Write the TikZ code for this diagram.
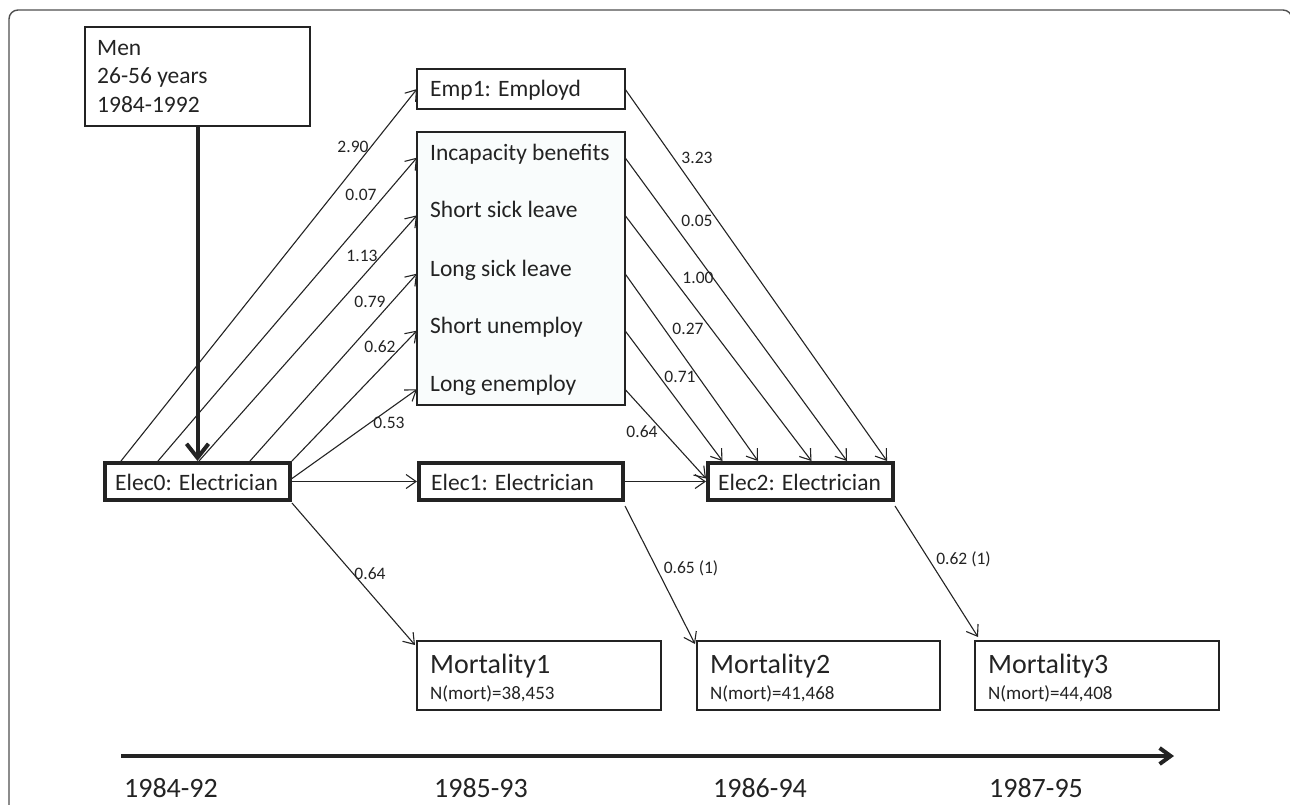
\documentclass[tikz,border=0pt]{standalone}
\usepackage{fontspec}
\setmainfont{Carlito}
\usetikzlibrary{arrows.meta,calc}
\definecolor{ink}{RGB}{35,35,35}
\definecolor{boxfill}{RGB}{249,252,252}
\newcommand\fsMain{\fontsize{23.5}{28.5}\selectfont}
\newcommand\fsLbl{\fontsize{17.5}{20}\selectfont}
\newcommand\fsMort{\fontsize{28}{32}\selectfont}
\newcommand\fsCount{\fontsize{19}{22}\selectfont}
\newcommand\fsYear{\fontsize{28}{32}\selectfont}
\tikzset{
  frame/.style={draw=ink!80, line width=1.4pt, rounded corners=9pt},
  box/.style={draw=ink, line width=1.3pt, anchor=north west, inner sep=0pt, outer sep=0pt},
  elecbox/.style={box, line width=3.5pt, minimum width=185pt, minimum height=37pt},
  txt/.style={anchor=base west, inner sep=0pt, text=ink, font=\fsMain},
  lbl/.style={inner sep=0pt, text=ink, font=\fsLbl},
  arr/.style={draw=ink, line width=1.1pt, -{Straight Barb[length=10pt,width=14pt]}},
  bigarr/.style={draw=ink, line width=4pt, -{Straight Barb[length=14pt,width=22pt]}},
  timeline/.style={draw=ink, line width=4pt, -{Straight Barb[length=11pt,width=16pt]}},
  year/.style={anchor=base, inner sep=0pt, text=ink, font=\fsYear}
}
\begin{document}
\begin{tikzpicture}[x=1pt,y=-1pt]
\useasboundingbox (0,0) rectangle (1290,804);
\clip (0,0) rectangle (1290,804);
\draw[frame] (9,10) rectangle (1292,840);

% boxes
\node[box, minimum width=225pt, minimum height=99pt] (men) at (85,27) {};
\node[txt] (men1) at (97,55) {Men};
\node[txt] (men2) at (97,83.5) {26-56 years};
\node[txt] (men3) at (97,112) {1984-1992};

\node[box, minimum width=208pt, minimum height=40pt] (emp1) at (417,69) {};
\node[txt] (emp1t) at (430,96.5) {Emp1: Employd};

\node[box, fill=boxfill, minimum width=208pt, minimum height=273pt] (states) at (417,132) {};
\node[txt] (incap) at (430,160) {Incapacity benefits};
\node[txt] (ssick) at (430,217.7) {Short sick leave};
\node[txt] (lsick) at (430,276) {Long sick leave};
\node[txt] (sunemp) at (430,333) {Short unemploy};
\node[txt] (lunemp) at (430,391.7) {Long enemploy};

\node[elecbox] (elec0) at (105,463) {};
\node[txt] (elec0t) at (115,490) {Elec0: Electrician};
\node[elecbox, minimum width=204pt] (elec1) at (419,463) {};
\node[txt] (elec1t) at (431,490) {Elec1: Electrician};
\node[elecbox] (elec2) at (708,463) {};
\node[txt] (elec2t) at (718,490) {Elec2: Electrician};

\node[box, minimum width=244pt, minimum height=69pt] (mort1) at (417,641) {};
\node[txt, font=\fsMort] (mort1t) at ($(mort1.north west)+(13,32)$) {Mortality1};
\node[txt, font=\fsCount] (mort1n) at ($(mort1.north west)+(13,58)$) {N(mort)=38,453};
\node[box, minimum width=243pt, minimum height=69pt] (mort2) at (697,641) {};
\node[txt, font=\fsMort] (mort2t) at ($(mort2.north west)+(13,32)$) {Mortality2};
\node[txt, font=\fsCount] (mort2n) at ($(mort2.north west)+(13,58)$) {N(mort)=41,468};
\node[box, minimum width=244pt, minimum height=69pt] (mort3) at (975,641) {};
\node[txt, font=\fsMort] (mort3t) at ($(mort3.north west)+(13,32)$) {Mortality3};
\node[txt, font=\fsCount] (mort3n) at ($(mort3.north west)+(13,58)$) {N(mort)=44,408};

% thick arrow
\draw[bigarr] (men.south) -- ($(men.south |- elec0.north)+(0,-2)$);

% Elec0 -> states
\draw[arr] ($(elec0.north west)+(16,-2)$) -- (emp1.west);
\draw[arr] ($(elec0.north west)+(53,-2)$) -- (states.west |- incap.mid);
\draw[arr] ($(elec0.north west)+(94,-2)$) -- (states.west |- ssick.mid);
\draw[arr] ($(elec0.north west)+(145,-2)$) -- (states.west |- lsick.mid);
\draw[arr] ($(elec0.north east)+(2,-2)$) -- (states.west |- sunemp.mid);
\draw[arr] ($(elec0.east)+(2,-3)$) -- (states.west |- lunemp.mid);

% states -> Elec2
\draw[arr] (emp1.east) -- ($(elec2.north west)+(179,-2)$);
\draw[arr] (states.east |- incap.mid) -- ($(elec2.north west)+(139,-2)$);
\draw[arr] (states.east |- ssick.mid) -- ($(elec2.north west)+(103.5,-2)$);
\draw[arr] (states.east |- lsick.mid) -- ($(elec2.north west)+(50,-2)$);
\draw[arr] (states.east |- sunemp.mid) -- ($(elec2.north west)+(14.5,-2)$);
\draw[arr] (states.east |- lunemp.mid) -- ($(elec2.west)+(-2,-3)$);

% horizontal
\draw[arr] ($(elec0.east)+(2,0)$) -- ($(elec1.west)+(-2,0)$);
\draw[arr] ($(elec1.east)+(2,0)$) -- ($(elec2.west)+(-2,0)$);

% to mortality
\draw[arr] ($(elec0.south east)+(2,3)$) -- ($(mort1.north west)+(-2,4)$);
\draw[arr] ($(elec1.south east)+(2,6)$) -- ($(mort2.north west)+(-2,3)$);
\draw[arr] ($(elec2.south east)+(2,6)$) -- ($(mort3.north west)+(3,-4)$);

% labels
\node[lbl] (l1) at (353,147) {2.90};
\node[lbl] (l2) at (361,195) {0.07};
\node[lbl] (l3) at (362,255.5) {1.13};
\node[lbl] (l4) at (370,302) {0.79};
\node[lbl] (l5) at (380,347) {0.62};
\node[lbl] (l6) at (389,423) {0.53};
\node[lbl] (r1) at (697,158) {3.23};
\node[lbl] (r2) at (697,221) {0.05};
\node[lbl] (r3) at (698,278) {1.00};
\node[lbl] (r4) at (688,328.5) {0.27};
\node[lbl] (r5) at (680,377) {0.71};
\node[lbl] (r6) at (642,432) {0.64};
\node[lbl] (m1) at (370,573.5) {0.64};
\node[lbl] (m2) at (691,568) {0.65 (1)};
\node[lbl] (m3) at (963.5,559) {0.62 (1)};

% timeline
\coordinate (t0) at (121,756);
\coordinate (t1) at (1174,756);
\draw[timeline] (t0) -- (t1);
\node[year] (y1) at (171,797) {1984-92};
\node[year] (y2) at (481,797) {1985-93};
\node[year] (y3) at (760,797) {1986-94};
\node[year] (y4) at (1036,797) {1987-95};
\end{tikzpicture}
\end{document}
